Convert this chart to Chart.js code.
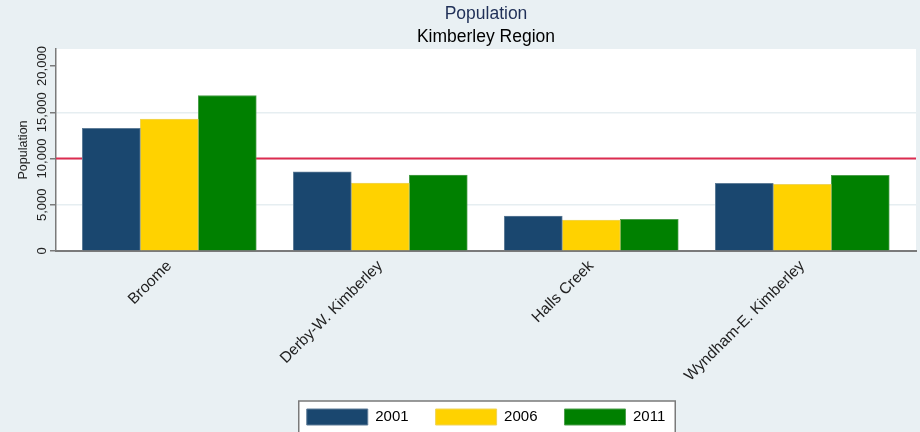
<!DOCTYPE html>
<html>
<head>
<meta charset="utf-8">
<script src="https://cdn.jsdelivr.net/npm/chart.js@4"></script>
<style>
  html, body { margin: 0; padding: 0; background: #e9f0f3; }
  #wrap { width: 920px; height: 432px; }
</style>
</head>
<body>
<div id="wrap"><canvas id="chart"></canvas></div>
<script>
// Data
const regions = ['Broome', 'Derby-W. Kimberley', 'Halls Creek', 'Wyndham-E. Kimberley'];
const years = ['2001', '2006', '2011'];
const pop2001 = [13250, 8560, 3780, 7310];
const pop2006 = [14250, 7340, 3350, 7200];
const pop2011 = [16810, 8210, 3420, 8180];
const yTicks = [0, 5000, 10000, 15000, 20000];
const refLine = 10000;

const FONT = '"Liberation Sans", Arial, sans-serif';
Chart.defaults.font.family = FONT;

const series = [
  { label: years[0], values: pop2001, bg: '#1a476f', border: '#5f7d98' },
  { label: years[1], values: pop2006, bg: '#ffd200', border: '#efd45a' },
  { label: years[2], values: pop2011, bg: '#008000', border: '#4c9f4c' }
];

// Backgrounds, plot area and legend frame
const backdrop = {
  id: 'backdrop',
  beforeDraw(chart) {
    const { ctx, chartArea: a } = chart;
    ctx.save();
    ctx.fillStyle = '#e9f0f3';
    ctx.fillRect(0, 0, chart.width, chart.height);
    ctx.fillStyle = '#ffffff';
    ctx.fillRect(a.left, a.top, a.right - a.left, a.bottom - a.top);
    const hb = chart.legend.legendHitBoxes;
    if (hb && hb.length) {
      const last = hb[hb.length - 1];
      const l = hb[0].left - 8, t = hb[0].top - 8;
      const r = last.left + last.width + 10;
      ctx.fillRect(l, t, r - l, chart.height - t + 5);
      ctx.strokeStyle = '#7a7a7a';
      ctx.lineWidth = 1.5;
      ctx.strokeRect(l, t, r - l, chart.height - t + 5);
    }
    ctx.restore();
  },
  // reference line sits behind the bars
  beforeDatasetsDraw(chart) {
    const { ctx, chartArea: a, scales: { y } } = chart;
    const py = y.getPixelForValue(refLine);
    ctx.save();
    ctx.strokeStyle = '#dc2c50';
    ctx.lineWidth = 1.8;
    ctx.beginPath();
    ctx.moveTo(a.left, py);
    ctx.lineTo(a.right, py);
    ctx.stroke();
    ctx.restore();
  },
  // vertical y tick labels
  afterDraw(chart) {
    const { ctx, scales: { y } } = chart;
    ctx.save();
    ctx.font = '13px ' + FONT;
    ctx.fillStyle = '#222';
    ctx.textAlign = 'center';
    ctx.textBaseline = 'middle';
    y.ticks.forEach(t => {
      ctx.save();
      ctx.translate(y.right - 14, y.getPixelForValue(t.value));
      ctx.rotate(-Math.PI / 2);
      ctx.fillText(t.value.toLocaleString('en-US'), 0, 0);
      ctx.restore();
    });
    ctx.restore();
  }
};

new Chart(document.getElementById('chart'), {
  type: 'bar',
  data: {
    datasets: series.map(s => ({
      label: s.label,
      data: s.values.map((v, i) => ({ x: i, y: v })),
      backgroundColor: s.bg,
      borderColor: s.border,
      borderWidth: 1,
      barThickness: 58
    }))
  },
  options: {
    responsive: true,
    maintainAspectRatio: false,
    animation: false,
    layout: { padding: { left: 0, right: 4, top: 0, bottom: -3 } },
    plugins: {
      title: {
        display: true, text: 'Population', fullSize: false,
        color: '#1f2f57', font: { size: 17.5, weight: 'normal' },
        padding: { top: 3.5, bottom: 0 }
      },
      subtitle: {
        display: true, text: 'Kimberley Region', fullSize: false,
        color: '#000', font: { size: 17.5 },
        padding: { top: 2, bottom: 1.5 }
      },
      legend: {
        position: 'bottom', fullSize: false,
        labels: { boxWidth: 61, boxHeight: 16, padding: 27, color: '#000', font: { size: 15 } }
      },
      tooltip: { enabled: false }
    },
    scales: {
      x: {
        type: 'linear',
        offset: false,
        min: -0.537,
        max: 3.539,
        afterBuildTicks: scale => { scale.ticks = regions.map((_, i) => ({ value: i })); },
        afterFit: scale => { scale.height = 131; },
        grid: { display: false, offset: false },
        border: { display: true, color: '#7a7a7a', width: 2 },
        ticks: {
          autoSkip: false, minRotation: 45, maxRotation: 45, padding: -2,
          color: '#222', font: { size: 15.5 },
          callback: v => regions[v]
        }
      },
      y: {
        min: 0,
        max: 21840,
        afterBuildTicks: scale => { scale.ticks = yTicks.map(v => ({ value: v })); },
        afterFit: scale => { scale.width = 56; },
        grid: {
          color: c => (c.tick && (c.tick.value === 0 || c.tick.value === yTicks[yTicks.length - 1])) ? 'rgba(0,0,0,0)' : '#e6eef1',
          lineWidth: 1.5,
          tickColor: '#7a7a7a',
          tickLength: 6
        },
        border: { display: true, color: '#7a7a7a', width: 1.5 },
        ticks: { display: false },
        title: {
          display: true, text: 'Population', color: '#222',
          font: { size: 12.5 }, padding: { top: 16, bottom: 0 }
        }
      }
    }
  },
  plugins: [backdrop]
});
</script>
</body>
</html>
